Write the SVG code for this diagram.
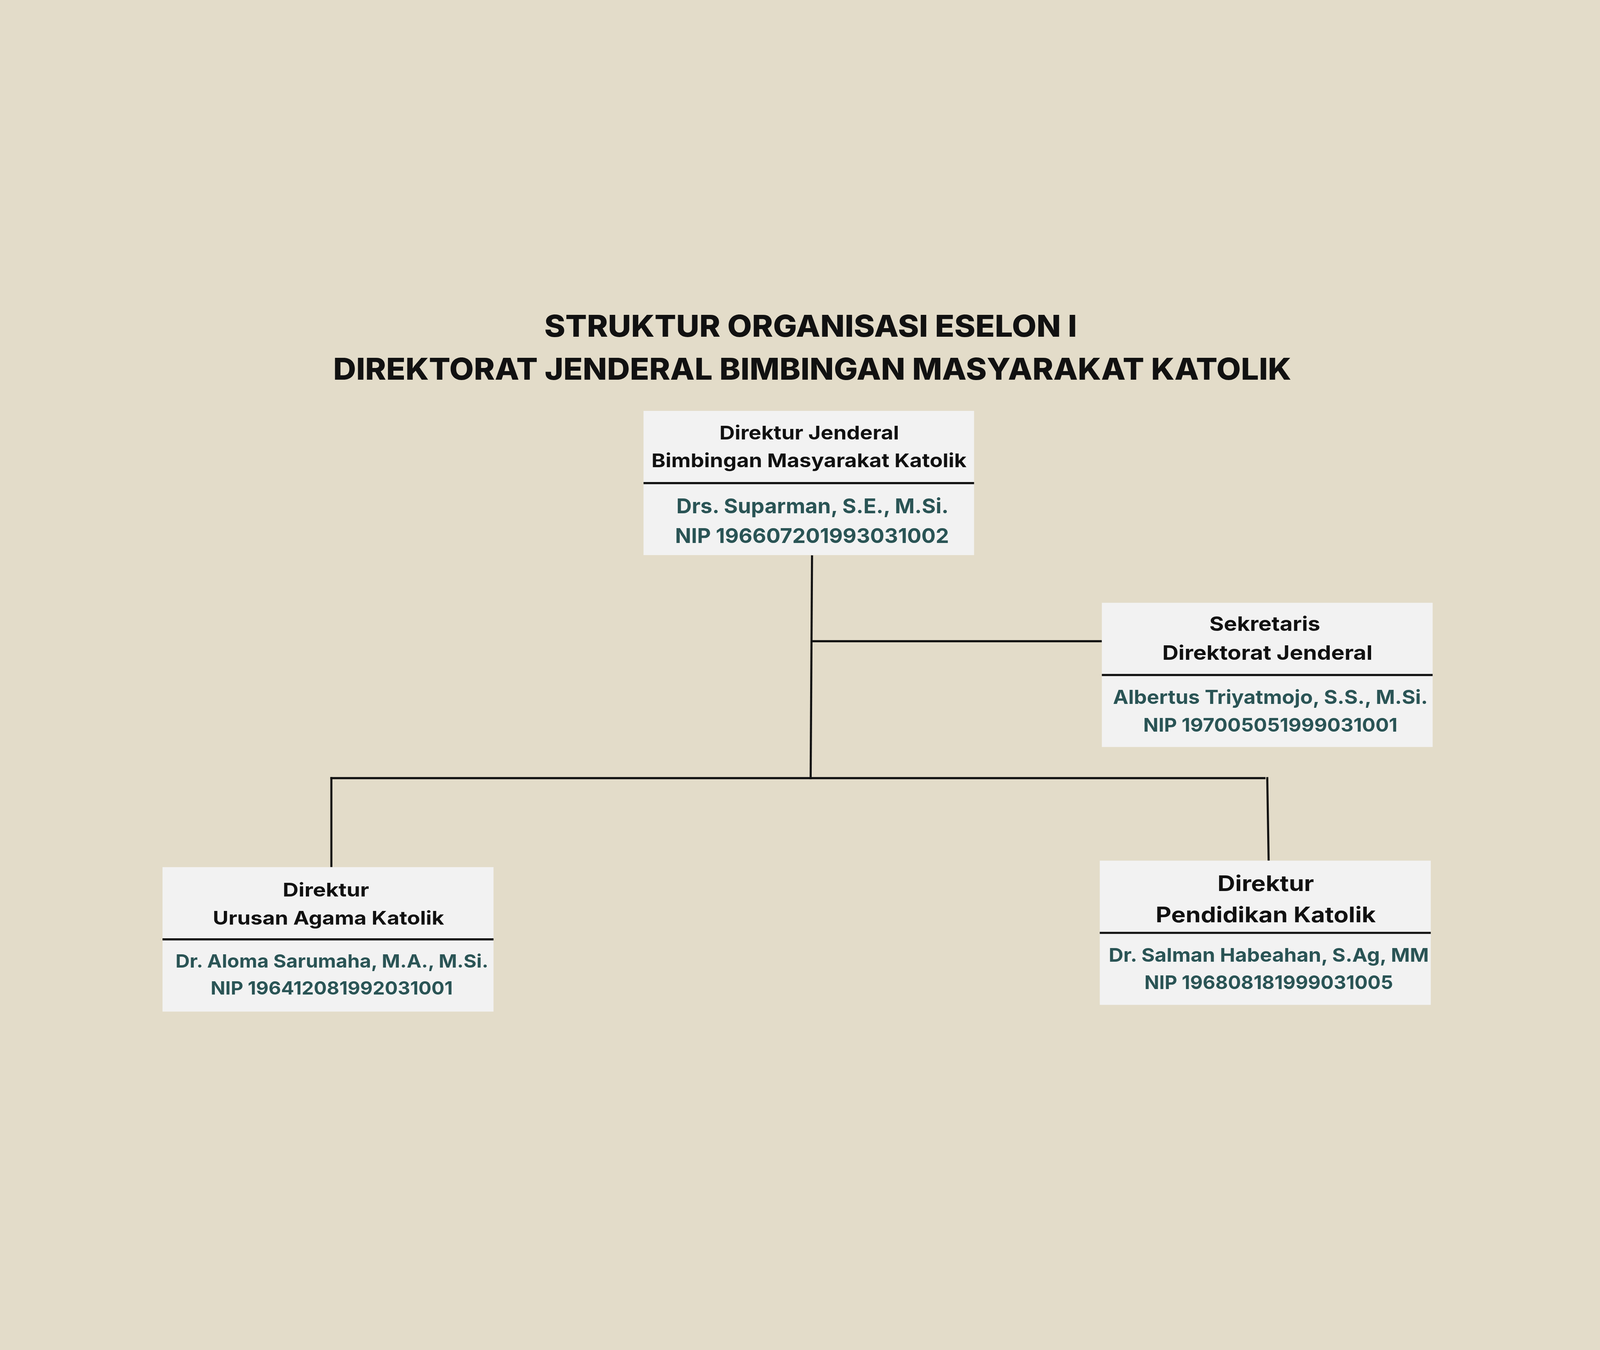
<svg xmlns="http://www.w3.org/2000/svg" width="6912" height="3456" viewBox="0 0 6912 3456" style="max-width:100vw;max-height:100vh">
<style>
.bg{fill:#E3DCC9}
.box{fill:#F2F2F2}
.div{stroke:#111111;stroke-width:9}
.con{stroke:#111111;stroke-width:9;fill:none;stroke-linecap:butt}
text{font-family:Inter,"Liberation Sans",sans-serif;text-anchor:middle}
.title{font-weight:800;font-size:130px;fill:#111111}
.role{font-weight:700;fill:#111111}
.name{font-weight:700;fill:#2A5455}
</style>
<rect class="bg" x="-3456" y="-3456" width="13824" height="10368"/>
<g id="title">
<text class="title" x="3502" y="267" textLength="2301" lengthAdjust="spacingAndGlyphs">STRUKTUR ORGANISASI ESELON I</text>
<text class="title" x="3509" y="452" textLength="4139" lengthAdjust="spacingAndGlyphs">DIREKTORAT JENDERAL BIMBINGAN MASYARAKAT KATOLIK</text>
</g>
<g id="connectors">
<line class="con" x1="3508" y1="1211" x2="3502" y2="2178"/>
<line class="con" x1="3505" y1="1582" x2="4760" y2="1582"/>
<line class="con" x1="1427" y1="2173.5" x2="5467" y2="2173.5"/>
<line class="con" x1="1431.5" y1="2169" x2="1431.5" y2="2558"/>
<line class="con" x1="5474.5" y1="2169" x2="5480.5" y2="2530"/>
</g>
<g id="dirjen">
<rect class="box" x="2780" y="587" width="1428" height="623"/>
<line class="div" x1="2780" y1="899" x2="4208" y2="899"/>
<text class="role" x="3496" y="711" font-size="82" textLength="776" lengthAdjust="spacingAndGlyphs">Direktur Jenderal</text>
<text class="role" x="3495" y="831" font-size="82" textLength="1361" lengthAdjust="spacingAndGlyphs">Bimbingan Masyarakat Katolik</text>
<text class="name" x="3510" y="1030" font-size="89" textLength="1176" lengthAdjust="spacingAndGlyphs">Drs. Suparman, S.E., M.Si.</text>
<text class="name" x="3508" y="1157" font-size="89" textLength="1183" lengthAdjust="spacingAndGlyphs">NIP 196607201993031002</text>
</g>
<g id="sekretaris">
<rect class="box" x="4760" y="1416" width="1429" height="623"/>
<line class="div" x1="4760" y1="1728" x2="6189" y2="1728"/>
<text class="role" x="5464" y="1538" font-size="86" textLength="479" lengthAdjust="spacingAndGlyphs">Sekretaris</text>
<text class="role" x="5475" y="1663" font-size="86" textLength="908" lengthAdjust="spacingAndGlyphs">Direktorat Jenderal</text>
<text class="name" x="5488" y="1853" font-size="83" textLength="1360" lengthAdjust="spacingAndGlyphs">Albertus Triyatmojo, S.S., M.Si.</text>
<text class="name" x="5488" y="1972" font-size="81" textLength="1098" lengthAdjust="spacingAndGlyphs">NIP 197005051999031001</text>
</g>
<g id="dir-urusan">
<rect class="box" x="702" y="2558" width="1430" height="624"/>
<line class="div" x1="702" y1="2870" x2="2132" y2="2870"/>
<text class="role" x="1408" y="2684" font-size="81" textLength="373" lengthAdjust="spacingAndGlyphs">Direktur</text>
<text class="role" x="1419" y="2806" font-size="81" textLength="999" lengthAdjust="spacingAndGlyphs">Urusan Agama Katolik</text>
<text class="name" x="1434" y="2992" font-size="79" textLength="1352" lengthAdjust="spacingAndGlyphs">Dr. Aloma Sarumaha, M.A., M.Si.</text>
<text class="name" x="1433" y="3108" font-size="79" textLength="1046" lengthAdjust="spacingAndGlyphs">NIP 196412081992031001</text>
</g>
<g id="dir-pendidikan">
<rect class="box" x="4751" y="2530" width="1430" height="623"/>
<line class="div" x1="4751" y1="2842" x2="6181" y2="2842"/>
<text class="role" x="5468" y="2661" font-size="93" textLength="417" lengthAdjust="spacingAndGlyphs">Direktur</text>
<text class="role" x="5468" y="2797" font-size="92" textLength="951" lengthAdjust="spacingAndGlyphs">Pendidikan Katolik</text>
<text class="name" x="5481" y="2966" font-size="82" textLength="1383" lengthAdjust="spacingAndGlyphs">Dr. Salman Habeahan, S.Ag, MM</text>
<text class="name" x="5481" y="3084" font-size="82" textLength="1074" lengthAdjust="spacingAndGlyphs">NIP 196808181999031005</text>
</g>
</svg>
